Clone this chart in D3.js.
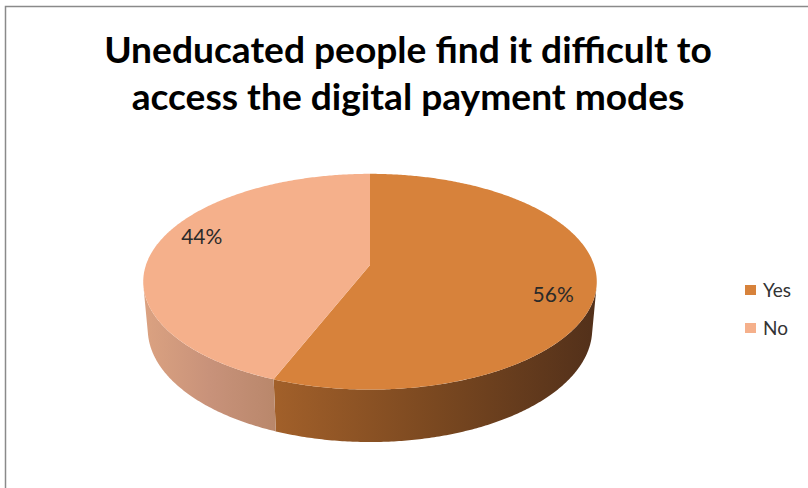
<!DOCTYPE html>
<html>
<head>
<meta charset="utf-8">
<script src="https://cdn.jsdelivr.net/npm/d3@7"></script>
<style>
  html, body { margin: 0; padding: 0; background: #fff; }
  svg { display: block; }
</style>
</head>
<body>
<svg id="chart" width="808" height="488"></svg>
<script>
// Survey answers
const categories = ["Yes", "No"];
const shares = [56, 44];
const titleLines = ["Uneducated people find it difficult to", "access the digital payment modes"];

const topColors = { Yes: "#d7823b", No: "#f5b08b" };
const wallColors = { Yes: ["#a2602a", "#7a4820", "#52301a"], No: ["#dba281", "#c8927a", "#b9876b"] };

const W = 808, H = 488;
const svg = d3.select("#chart");

// frame
svg.append("path")
  .attr("d", `M5.5,${H} L5.5,6.5 L${W},6.5`)
  .attr("fill", "none").attr("stroke", "#8a8a8a").attr("stroke-width", 1.5);

// title
const title = svg.append("g").attr("font-family", "Lato, 'Open Sans', sans-serif")
  .attr("font-weight", "bold").attr("fill", "#000");
titleLines.forEach((t, i) => {
  title.append("text")
    .attr("x", 408).attr("y", 63 + i * 47)
    .attr("text-anchor", "middle")
    .attr("font-size", 30)
    .text(t);
});
// fit first line width, share the size with the second
{
  const n = title.select("text").node();
  const w = n.getComputedTextLength();
  const fs = 30 * 608 / w;
  title.selectAll("text").attr("font-size", fs);
}

// 3D projection of the pie disc (perspective camera above and in front)
const cx = 370, cy = 265;          // screen position of the disc centre (top face)
const k = 1277, D = 5.7;           // focal scale and camera distance (radius = 1)
const elev = Math.asin(0.47);      // camera elevation
const sA = Math.sin(elev), cA = Math.cos(elev);
const depth = 0.242;               // disc thickness

function proj(theta, r, Y) {
  const X = r * Math.sin(theta);
  const Z = -r * Math.cos(theta);
  const den = D - Y * sA - Z * cA;
  return [cx + k * X / den, cy - k * (Y * cA - Z * sA) / den];
}

const pie = d3.pie().sort(null).value(d => d)(shares);
const slices = pie.map((p, i) => ({ name: categories[i], value: shares[i], a0: p.startAngle, a1: p.endAngle }));

const line = d3.line();
function arcPts(a0, a1, r, Y) {
  const n = Math.max(2, Math.ceil(Math.abs(a1 - a0) / 0.01));
  return d3.range(n + 1).map(j => proj(a0 + (a1 - a0) * j / n, r, Y));
}

// outer wall faces the camera where cos(theta) < -1/(D*cos(elev))
const cosLim = -1 / (D * cA);
const wallLo = Math.acos(cosLim), wallHi = 2 * Math.PI - wallLo;

const defs = svg.append("defs");
const walls = svg.append("g");
const tops = svg.append("g");

slices.forEach((s, i) => {
  const a0 = Math.max(s.a0, wallLo), a1 = Math.min(s.a1, wallHi);
  if (a1 > a0) {
    const topEdge = arcPts(a0, a1, 1, 0);
    const botEdge = arcPts(a0, a1, 1, -depth).reverse();
    const pts = topEdge.concat(botEdge);
    const xs = pts.map(p => p[0]);
    const gid = "wall" + i;
    // wall shading runs light (left) to dark (right)
    const g = defs.append("linearGradient").attr("id", gid)
      .attr("gradientUnits", "userSpaceOnUse")
      .attr("x1", d3.min(xs)).attr("x2", d3.max(xs)).attr("y1", 0).attr("y2", 0);
    const cols = wallColors[s.name];
    cols.forEach((c, j) => g.append("stop").attr("offset", j / (cols.length - 1)).attr("stop-color", c));
    walls.append("path").attr("d", line(pts) + "Z").attr("fill", `url(#${gid})`);
  }
});

slices.forEach(s => {
  const pts = [proj(0, 0, 0)].concat(arcPts(s.a0, s.a1, 1, 0));
  tops.append("path").attr("d", line(pts) + "Z").attr("fill", topColors[s.name]);
});

// data labels inside the slices
const labelTurn = 0.15, labelR = 0.83;
svg.append("g").selectAll("text").data(slices).join("text")
  .attr("x", d => proj((d.a0 + d.a1) / 2 + labelTurn, labelR, 0)[0])
  .attr("y", d => proj((d.a0 + d.a1) / 2 + labelTurn, labelR, 0)[1] + 7)
  .attr("text-anchor", "middle")
  .attr("font-family", "Lato, 'Open Sans', sans-serif")
  .attr("font-size", 21).attr("fill", "#2a2a2a")
  .text(d => d.value + "%");

// legend
const legend = svg.append("g").attr("transform", "translate(745,285)");
const item = legend.selectAll("g").data(categories).join("g")
  .attr("transform", (d, i) => `translate(0,${i * 38})`);
item.append("rect").attr("x", 0).attr("y", 0).attr("width", 11).attr("height", 10)
  .attr("fill", d => topColors[d]);
item.append("text").attr("x", 18).attr("y", 11.5)
  .attr("font-family", "Lato, 'Open Sans', sans-serif")
  .attr("font-size", 19).attr("fill", "#333")
  .text(d => d);
</script>
</body>
</html>
